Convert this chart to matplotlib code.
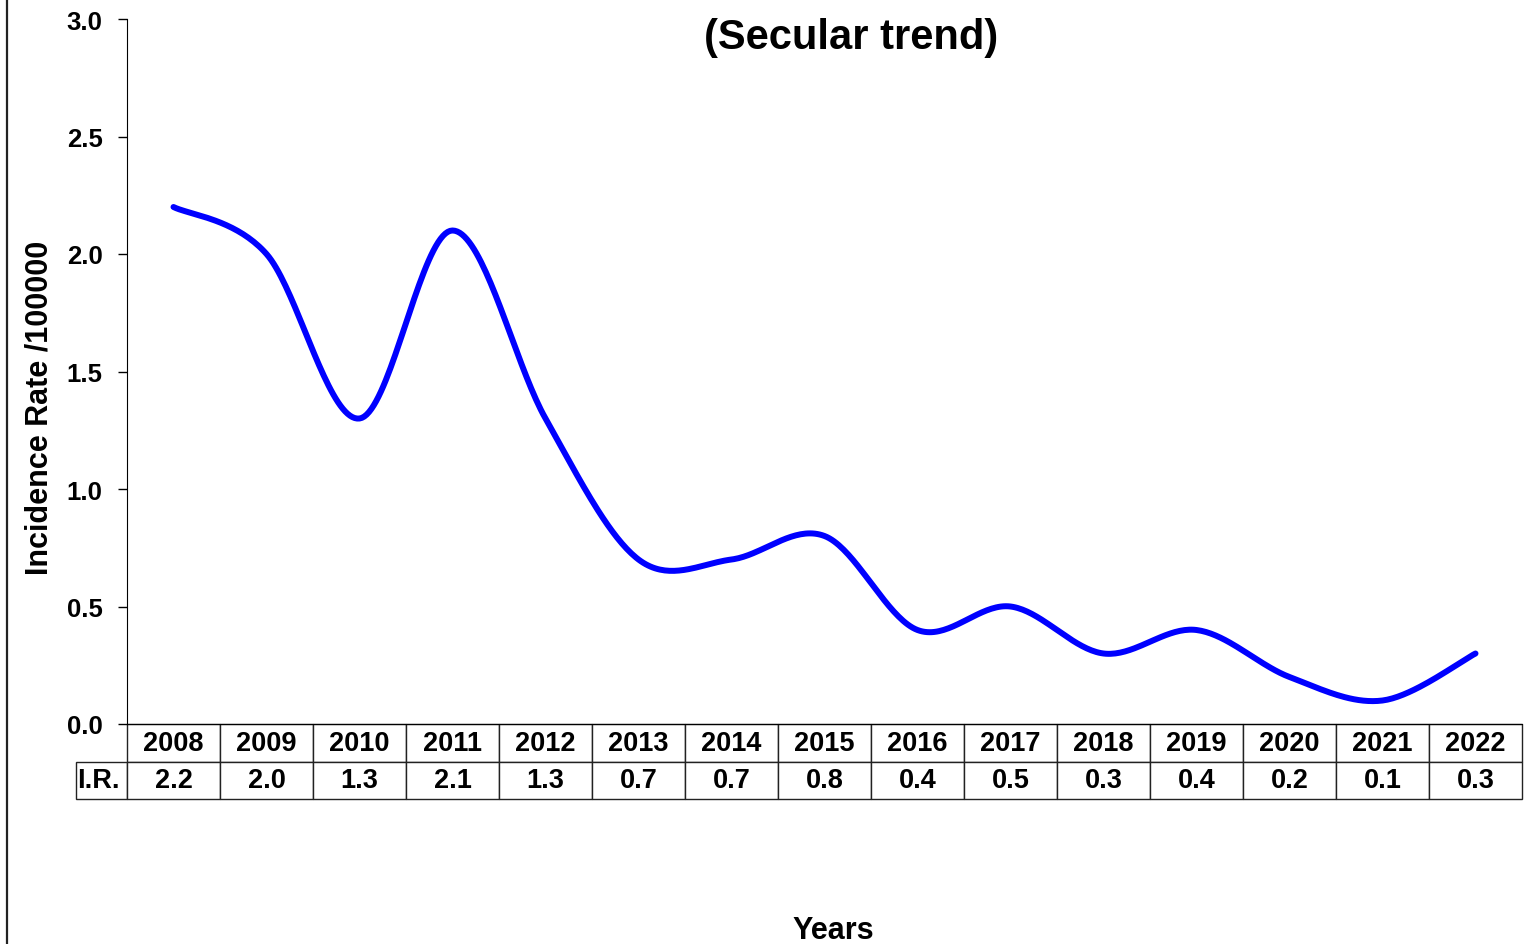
import numpy as np
import matplotlib.pyplot as plt

plt.rcParams['font.family'] = ['Liberation Sans', 'DejaVu Sans']
plt.rcParams['font.weight'] = 'bold'

years = ['2008', '2009', '2010', '2011', '2012', '2013', '2014', '2015',
         '2016', '2017', '2018', '2019', '2020', '2021', '2022']
ir = [2.2, 2.0, 1.3, 2.1, 1.3, 0.7, 0.7, 0.8, 0.4, 0.5, 0.3, 0.4, 0.2, 0.1, 0.3]
yticks = [0.0, 0.5, 1.0, 1.5, 2.0, 2.5, 3.0]


def smooth(x, y, n=40):
    # excel-like smoothed line (catmull-rom bezier)
    x = np.asarray(x, float)
    y = np.asarray(y, float)
    px, py = [], []
    for i in range(len(x) - 1):
        x0, y0 = (x[i - 1], y[i - 1]) if i > 0 else (x[i], y[i])
        x3, y3 = (x[i + 2], y[i + 2]) if i + 2 < len(x) else (x[i + 1], y[i + 1])
        x1, y1 = x[i], y[i]
        x2, y2 = x[i + 1], y[i + 1]
        c1x, c1y = x1 + (x2 - x0) / 6, y1 + (y2 - y0) / 6
        c2x, c2y = x2 - (x3 - x1) / 6, y2 - (y3 - y1) / 6
        t = np.linspace(0, 1, n)
        px.append((1-t)**3*x1 + 3*(1-t)**2*t*c1x + 3*(1-t)*t**2*c2x + t**3*x2)
        py.append((1-t)**3*y1 + 3*(1-t)**2*t*c1y + 3*(1-t)*t**2*c2y + t**3*y2)
    return np.concatenate(px), np.concatenate(py)


W, H = 1529, 945
fig = plt.figure(figsize=(W / 100, H / 100), dpi=100)
ax = fig.add_axes([127 / W, 1 - 725 / H, 1395 / W, 705 / H])

xs = np.arange(len(years))
sx, sy = smooth(xs, ir)
ax.plot(sx, sy, color='#0000ff', lw=4.3, solid_capstyle='round', clip_on=False)

ax.set_xlim(-0.5, len(years) - 0.5)
ax.set_ylim(0, 3)
ax.set_yticks(yticks)
ax.set_yticklabels(['%.1f' % v for v in yticks], fontsize=18.5, fontweight='bold')
ax.tick_params(axis='y', direction='out', length=6.5, width=1, pad=11)
ax.set_xticks([])
for s in ['top', 'right']:
    ax.spines[s].set_visible(False)

# data table under the plot (row label column sits left of the bbox)
ncol = len(years)
tb = ax.table(cellText=[['%.1f' % v for v in ir]], rowLabels=['I.R.'],
              colLabels=years, colWidths=[1 / ncol] * ncol,
              cellLoc='center', rowLoc='left',
              bbox=[0, -75 / 705, 1, 75 / 705])
tb.auto_set_font_size(False)
tb._autoColumns = []
for (r, c), cell in tb.get_celld().items():
    cell.set_linewidth(1.0)
    cell.set_edgecolor('#222222')
    cell.get_text().set_fontsize(19.5)
    cell.get_text().set_fontweight('bold')
    if c == -1:
        cell.set_width(51 / 93 / ncol)
        cell.PAD = 0.03

fig.text(851 / W, 1 - 38 / H, '(Secular trend)', ha='center', va='center',
         fontsize=30, fontweight='bold')
fig.text(40 / W, 1 - 408 / H, 'Incidence Rate /100000', rotation=90,
         ha='center', va='center', fontsize=22, fontweight='bold')
fig.text(833 / W, 1 - 931 / H, 'Years', ha='center', va='center',
         fontsize=22, fontweight='bold')

# chart area border on the left
fig.add_artist(plt.Line2D([7 / W, 7 / W], [0, 1], color='#222222', lw=1.6))

fig.savefig('out.png', dpi=100)
